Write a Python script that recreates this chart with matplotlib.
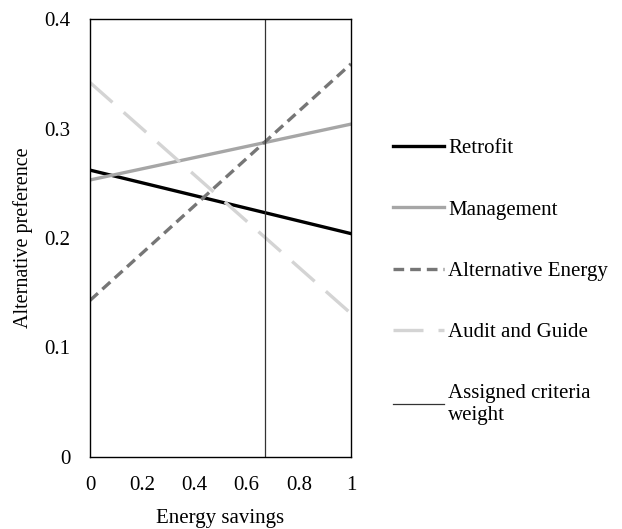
import matplotlib
matplotlib.use('Agg')
import matplotlib.pyplot as plt

plt.rcParams['font.family'] = ['Liberation Serif', 'DejaVu Serif']

x = [0, 1]
retrofit = [0.262, 0.204]
management = [0.253, 0.304]
alt_energy = [0.143, 0.359]
audit = [0.342, 0.131]
weight_x = 0.67
yticks = [0, 0.1, 0.2, 0.3, 0.4]
xticks = [0, 0.2, 0.4, 0.6, 0.8, 1]

fig = plt.figure(figsize=(6.22, 5.29), dpi=100)
ax = fig.add_axes([90/622, (529-457)/529, 261/622, 438/529])

ax.plot(x, retrofit, color='black', lw=2.4, label='Retrofit')
ax.plot(x, management, color='#a6a6a6', lw=2.4, label='Management')
ax.plot(x, alt_energy, color='#767676', lw=2.4, dashes=(3.2, 1.8), label='Alternative Energy')
ax.plot(x, audit, color='#d4d4d4', lw=2.4, dashes=(9, 4.5), label='Audit and Guide')
ax.axvline(weight_x, color='#333333', lw=0.9, label='Assigned criteria\nweight')

ax.set_xlim(0, 1)
ax.set_ylim(0, 0.4)
ax.set_xticks(xticks)
ax.set_xticklabels(['0', '0.2', '0.4', '0.6', '0.8', '1'])
ax.set_yticks(yticks)
ax.set_yticklabels(['0', '0.1', '0.2', '0.3', '0.4'])
ax.tick_params(length=0, labelsize=15, pad=14)
for s in ax.spines.values():
    s.set_linewidth(1.0)
ax.set_xlabel('Energy savings', fontsize=15, labelpad=10)
ax.set_ylabel('Alternative preference', fontsize=14.5, labelpad=8)

leg = fig.legend(loc='upper left', bbox_to_anchor=(374/622, 1 - 120/529), frameon=False,
                 fontsize=15, handlelength=2.45, handletextpad=0.2, labelspacing=2.0)

fig.savefig('out.png', dpi=100)
